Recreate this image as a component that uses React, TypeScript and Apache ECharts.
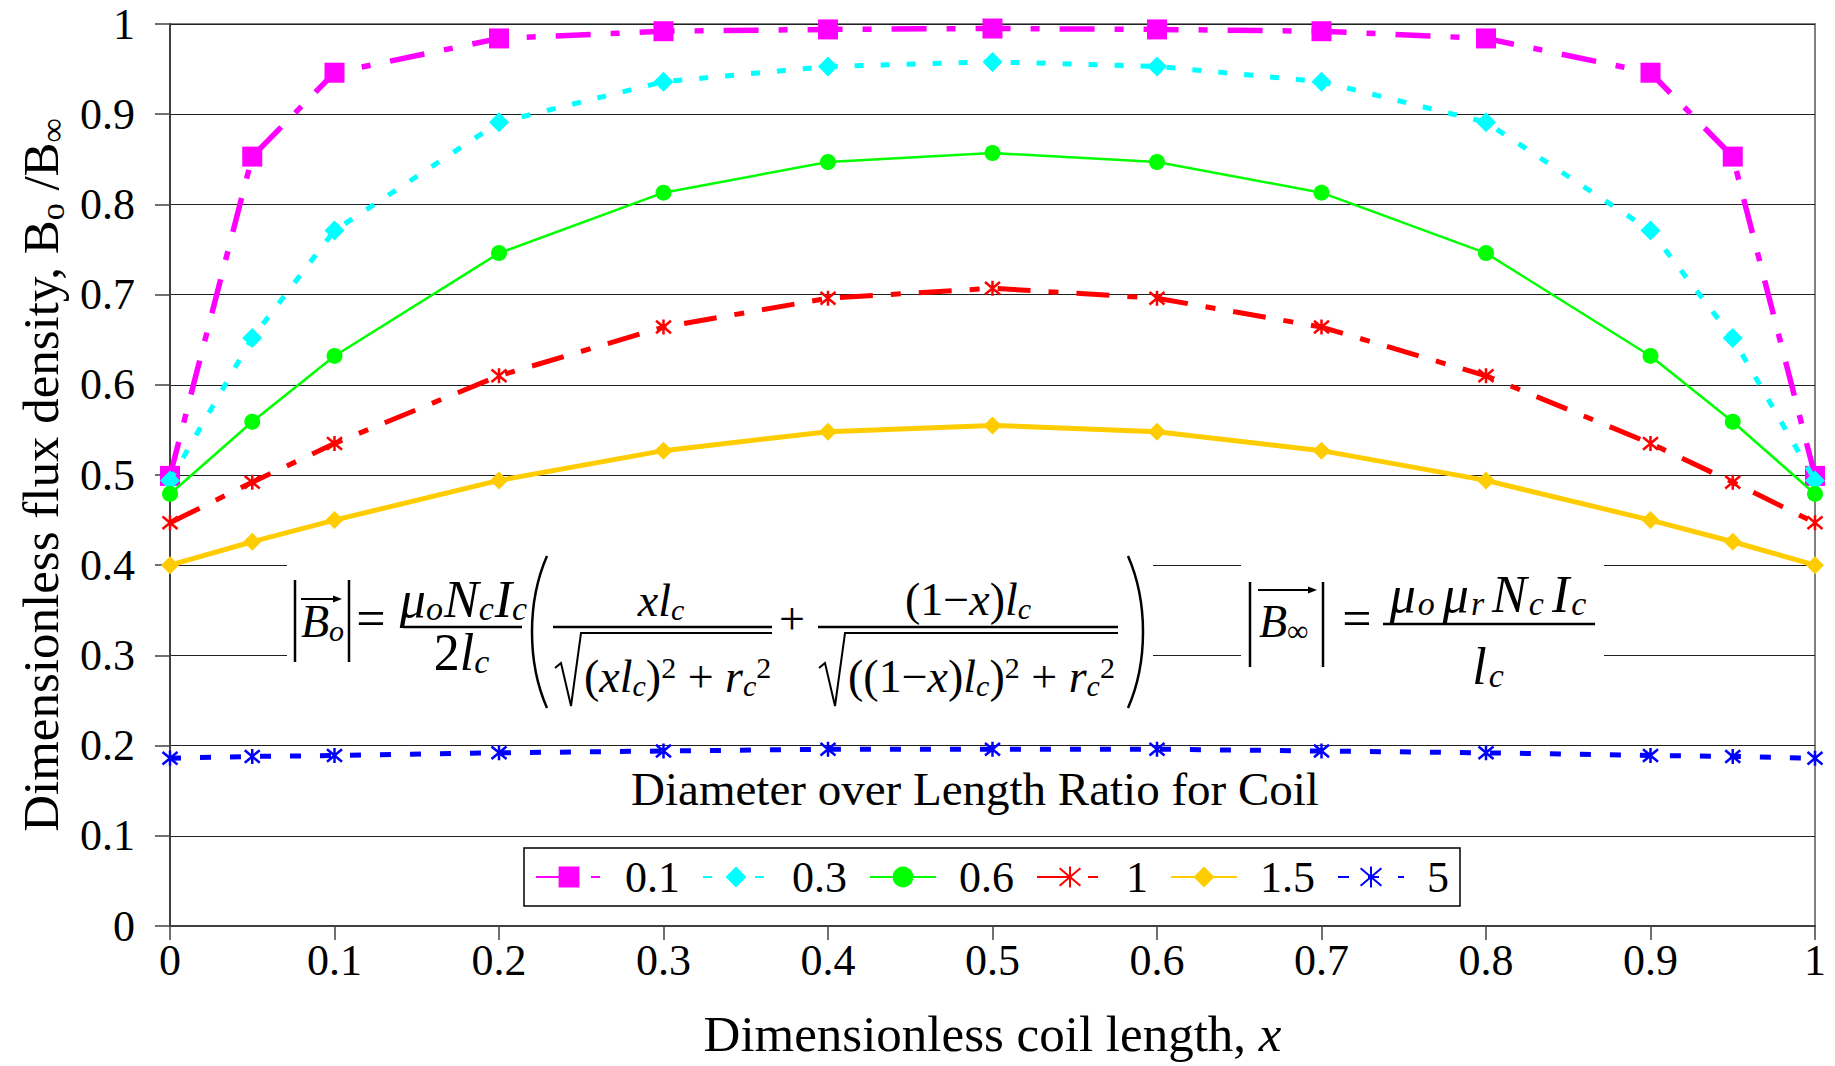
import React, { useEffect, useRef } from 'react';
import * as echarts from 'echarts';

// ---------- data ----------
const xValues = [0, 0.05, 0.1, 0.2, 0.3, 0.4, 0.5, 0.6, 0.7, 0.8, 0.9, 0.95, 1];
const seriesNames = ['0.1', '0.3', '0.6', '1', '1.5', '5'];
const ratio01 = [0.499, 0.853, 0.946, 0.984, 0.992, 0.994, 0.995, 0.994, 0.992, 0.984, 0.946, 0.853, 0.499];
const ratio03 = [0.494, 0.652, 0.771, 0.891, 0.936, 0.953, 0.958, 0.953, 0.936, 0.891, 0.771, 0.652, 0.494];
const ratio06 = [0.479, 0.559, 0.632, 0.746, 0.813, 0.847, 0.857, 0.847, 0.813, 0.746, 0.632, 0.559, 0.479];
const ratio1 = [0.447, 0.492, 0.535, 0.61, 0.664, 0.696, 0.707, 0.696, 0.664, 0.61, 0.535, 0.492, 0.447];
const ratio15 = [0.4, 0.426, 0.45, 0.494, 0.527, 0.548, 0.555, 0.548, 0.527, 0.494, 0.45, 0.426, 0.4];
const ratio5 = [0.186, 0.188, 0.189, 0.192, 0.194, 0.196, 0.196, 0.196, 0.194, 0.192, 0.189, 0.188, 0.186];
const allValues = [ratio01, ratio03, ratio06, ratio1, ratio15, ratio5];

const xTitle = 'Dimensionless coil length, ';
const yTitle = 'Dimensionless flux density, B';
const legendTitle = 'Diameter over Length Ratio for Coil';

// ---------- styles ----------
const FF = '"Liberation Serif", "Times New Roman", Times, serif';
const ASTERISK = 'path://M0,0L10,10M10,0L0,10M5,-1L5,11';

const seriesStyles: any[] = [
  { color: '#FF00FF', width: 5.5, dash: [35, 20, 9, 20], symbol: 'rect', size: 20, border: 0 },
  { color: '#00FFFF', width: 5, dash: [9, 17], symbol: 'diamond', size: 20, border: 0 },
  { color: '#00FF00', width: 2.5, dash: 'solid', symbol: 'circle', size: 16, border: 0 },
  { color: '#FF0000', width: 5, dash: [33, 18, 10, 18], symbol: ASTERISK, size: 15, border: 2.5 },
  { color: '#FFCC00', width: 5, dash: 'solid', symbol: 'diamond', size: 18, border: 0 },
  { color: '#0000FF', width: 5, dash: [11, 19], symbol: ASTERISK, size: 15, border: 2.5 },
];

const S = 46;
const SS = 30;
const RICH: any = {
  m: { fontFamily: FF, fontStyle: 'italic', fontSize: S, lineHeight: 48, verticalAlign: 'middle' },
  u: { fontFamily: FF, fontStyle: 'normal', fontSize: S, lineHeight: 48, verticalAlign: 'middle' },
  s: { fontFamily: FF, fontStyle: 'italic', fontSize: SS, lineHeight: 21, verticalAlign: 'bottom' },
  su: { fontFamily: FF, fontStyle: 'normal', fontSize: SS, lineHeight: 21, verticalAlign: 'bottom' },
  p: { fontFamily: FF, fontStyle: 'normal', fontSize: SS, lineHeight: 35, verticalAlign: 'top' },
  M: { fontFamily: FF, fontStyle: 'italic', fontSize: 52, lineHeight: 52, verticalAlign: 'middle' },
  U: { fontFamily: FF, fontStyle: 'normal', fontSize: 52, lineHeight: 52, verticalAlign: 'middle' },
  S2: { fontFamily: FF, fontStyle: 'italic', fontSize: 34, lineHeight: 24, verticalAlign: 'bottom', padding: [0, 8, 0, 2] },
  S3: { fontFamily: FF, fontStyle: 'italic', fontSize: 34, lineHeight: 24, verticalAlign: 'bottom', padding: [0, 1, 0, 0] },
};

function mtext(str: string, x: number, baseline: number, align: string = 'center', size: number = S) {
  return {
    type: 'text',
    x,
    y: baseline - 0.3375 * size,
    z: 10,
    silent: true,
    style: {
      text: str,
      rich: RICH,
      align,
      verticalAlign: 'middle',
      fill: '#000',
      font: `italic ${size}px ${FF}`,
    },
  };
}
function ln(x1: number, y1: number, x2: number, y2: number, w = 2.5) {
  return { type: 'line', z: 10, silent: true, shape: { x1, y1, x2, y2 }, style: { stroke: '#000', lineWidth: w } };
}
function poly(points: number[][], w = 2) {
  return { type: 'polyline', z: 10, silent: true, shape: { points }, style: { stroke: '#000', lineWidth: w, fill: null } };
}
function arrowHead(x: number, y: number) {
  return {
    type: 'polygon', z: 10, silent: true,
    shape: { points: [[x - 9, y - 3.5], [x, y], [x - 9, y + 3.5]] },
    style: { fill: '#000' },
  };
}
function paren(x1: number, y1: number, y2: number, bulge: number) {
  return {
    type: 'bezierCurve', z: 10, silent: true,
    shape: { x1, y1, x2: x1, y2, cpx1: x1 + bulge, cpy1: y1 + (y2 - y1) * 0.3, cpx2: x1 + bulge, cpy2: y1 + (y2 - y1) * 0.7 },
    style: { stroke: '#000', lineWidth: 2.5, fill: null },
  };
}

function buildGraphic() {
  const g: any[] = [];
  // white boxes behind the formulas
  g.push({ type: 'rect', z: 1, silent: true, shape: { x: 287, y: 548, width: 866, height: 166 }, style: { fill: '#fff' } });
  g.push({ type: 'rect', z: 1, silent: true, shape: { x: 1241, y: 560, width: 363, height: 140 }, style: { fill: '#fff' } });

  // ---- formula 1 ----
  g.push(ln(295, 580, 295, 662));
  g.push(mtext('{m|B}{s|o}', 301, 637, 'left'));
  g.push(ln(301, 599, 338, 599, 2));
  g.push(arrowHead(342, 599));
  g.push(ln(349, 580, 349, 662));
  g.push(mtext('{U|=}', 371, 636, 'center', 52));
  g.push(mtext('{M|μ}{S3|o}{M|N}{S3|c}{M|I}{S3|c}', 464, 617, 'center', 52));
  g.push(ln(403, 627, 522, 627));
  g.push(mtext('{U|2}{M|l}{S3|c}', 462, 670, 'center', 52));
  g.push(paren(547, 556, 708, -20));
  g.push(mtext('{m|xl}{s|c}', 661, 616));
  g.push(ln(553, 627, 772, 627));
  g.push(poly([[555, 668], [561, 663], [571, 706], [581, 633], [772, 633]]));
  g.push(mtext('{u|(}{m|xl}{s|c}{u|)}{p|2}{u| + }{m|r}{s|c}{p|2}', 584, 692, 'left'));
  g.push(mtext('{u|+}', 792, 634));
  g.push(mtext('{u|(1−}{m|x}{u|)}{m|l}{s|c}', 968, 615));
  g.push(ln(818, 627, 1118, 627));
  g.push(poly([[819, 668], [825, 663], [835, 706], [845, 633], [1118, 633]]));
  g.push(mtext('{u|((1−}{m|x}{u|)}{m|l}{s|c}{u|)}{p|2}{u| + }{m|r}{s|c}{p|2}', 848, 692, 'left'));
  g.push(paren(1128, 556, 708, 20));

  // ---- formula 2 ----
  g.push(ln(1250, 582, 1250, 667));
  g.push(mtext('{m|B}{su|∞}', 1259, 637, 'left'));
  g.push(ln(1258, 590, 1312, 590, 2));
  g.push(arrowHead(1317, 590));
  g.push(ln(1323, 582, 1323, 667));
  g.push(mtext('{U|=}', 1357, 636, 'center', 52));
  g.push(mtext('{M|μ}{S2|o}{M|μ}{S2|r}{M|N}{S2|c}{M|I}{S2|c}', 1492, 612, 'center', 52));
  g.push(ln(1383, 624, 1595, 624));
  g.push(mtext('{M|l}{S2|c}', 1492, 684, 'center', 52));

  // legend title
  g.push({
    type: 'text', x: 975, y: 805 - 0.3375 * 47, z: 10, silent: true,
    style: { text: legendTitle, font: `47px ${FF}`, fill: '#000', align: 'center', verticalAlign: 'middle' },
  });
  return g;
}

export default function App() {
  const ref = useRef<HTMLDivElement>(null);
  useEffect(() => {
    if (!ref.current) return;
    const chart = echarts.init(ref.current, null, { renderer: 'svg' });
    const series = allValues.map((vals, i) => {
      const st = seriesStyles[i];
      return {
        name: seriesNames[i],
        type: 'line',
        data: xValues.map((x, j) => [x, vals[j]]),
        symbol: st.symbol,
        symbolSize: st.size,
        showAllSymbol: true,
        clip: false,
        z: 2 + i * 0.1,
        lineStyle: { color: st.color, width: st.width, type: st.dash, cap: 'butt' },
        itemStyle: { color: st.color, borderColor: st.color, borderWidth: st.border },
        emphasis: { disabled: true },
      };
    });
    chart.setOption({
      animation: false,
      backgroundColor: '#fff',
      textStyle: { fontFamily: FF },
      grid: {
        left: 170, right: 20, top: 24, bottom: 140,
        show: true, borderColor: '#808080', borderWidth: 2, backgroundColor: 'transparent',
        containLabel: false, outerBoundsMode: 'none',
      },
      legend: {
        data: seriesNames,
        left: 524,
        top: 848,
        orient: 'horizontal',
        padding: [5, 11, 5, 11],
        itemGap: 22,
        itemWidth: 66,
        itemHeight: 26,
        borderColor: '#000',
        borderWidth: 1.5,
        backgroundColor: '#fff',
        selectedMode: false,
        textStyle: { fontFamily: FF, fontSize: 44, color: '#000', lineHeight: 48, padding: [0, 0, 0, 18] },
      },
      xAxis: {
        type: 'value',
        min: 0,
        max: 1,
        interval: 0.1,
        name: `{a|${xTitle}}{i|x}`,
        nameLocation: 'middle',
        nameGap: 80,
        nameTextStyle: {
          fontFamily: FF, fontSize: 51, color: '#000',
          rich: {
            a: { fontFamily: FF, fontSize: 51, lineHeight: 56, color: '#000' },
            i: { fontFamily: FF, fontSize: 51, lineHeight: 56, color: '#000', fontStyle: 'italic' },
          },
        },
        axisLine: { show: true, lineStyle: { color: '#404040', width: 2 } },
        axisTick: { show: true, inside: false, length: 14, lineStyle: { color: '#404040', width: 1.5 } },
        axisLabel: { fontFamily: FF, fontSize: 44, lineHeight: 44, color: '#000', margin: 12 },
        splitLine: { show: false },
      },
      yAxis: {
        type: 'value',
        min: 0,
        max: 1,
        interval: 0.1,
        name: `{a|${yTitle}}{b|o}{a| /B}{b|∞}`,
        nameLocation: 'middle',
        nameGap: 97,
        nameTextStyle: {
          fontFamily: FF, fontSize: 51, color: '#000',
          rich: {
            a: { fontFamily: FF, fontSize: 51, lineHeight: 56, color: '#000', verticalAlign: 'middle' },
            b: { fontFamily: FF, fontSize: 34, lineHeight: 30, color: '#000', verticalAlign: 'bottom' },
          },
        },
        axisLine: { show: true, lineStyle: { color: '#404040', width: 2 } },
        axisTick: { show: true, inside: false, length: 15, lineStyle: { color: '#404040', width: 1.5 } },
        axisLabel: { fontFamily: FF, fontSize: 44, color: '#000', margin: 35 },
        splitLine: { show: true, lineStyle: { color: '#222', width: 1.2 } },
      },
      series,
      graphic: { elements: buildGraphic() },
    });
    return () => chart.dispose();
  }, []);
  return (
    <div
      ref={ref}
      style={{ position: 'fixed', left: 0, top: 0, width: 1835, height: 1066, background: '#fff' }}
    />
  );
}
